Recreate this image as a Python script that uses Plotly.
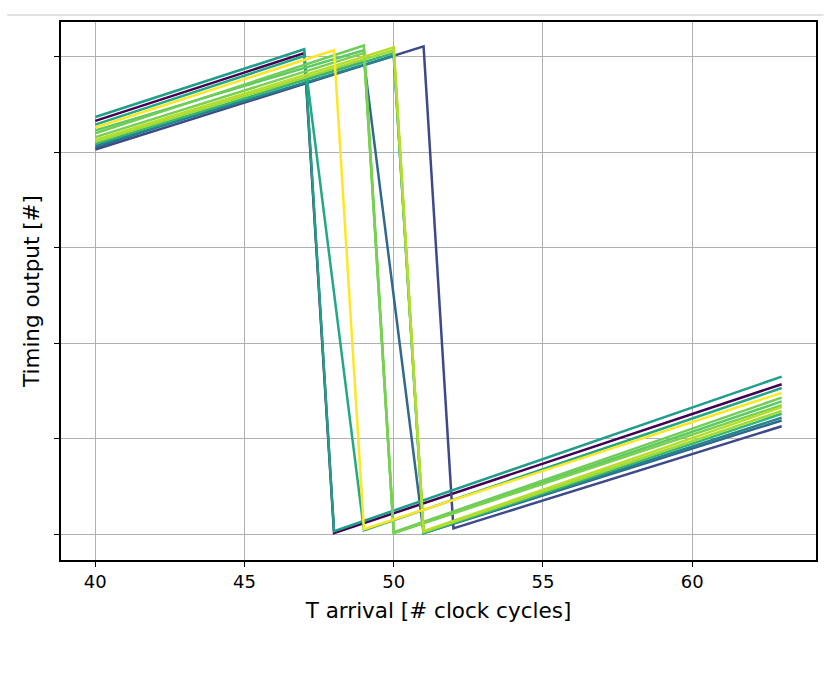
import plotly.graph_objects as go

# Each trace: ramp from T=40 up to its wrap point, a fall to the low value,
# then a ramp up to T=63. Values given at the corner points of each trace.
colors = ["#440154", "#3e4989", "#31688e", "#26828e", "#1f9e89", "#22a884",
          "#35b779", "#5ec962", "#6ece58", "#7ad151", "#a0da39", "#b5de2b",
          "#fde725"]
t_start = [40] * 13
t_peak = [47, 51, 49, 50, 47, 47, 50, 49, 49, 49, 50, 50, 48]
t_low = [48, 52, 51, 51, 48, 49, 51, 50, 50, 50, 51, 51, 49]
t_end = [63] * 13
y_start = [43.3, 40.3, 40.5, 40.7, 43.7, 42.9, 40.9, 42.3, 42.0, 41.6, 41.1, 41.3, 42.6]
y_peak = [50.4, 51.1, 49.7, 50.1, 50.8, 50.1, 50.4, 50.7, 51.2, 50.4, 50.7, 51.0, 50.7]
y_low = [0.1, 0.6, 0.1, 0.1, 0.3, 0.4, 0.1, 0.1, 0.2, 0.1, 0.2, 0.3, 0.5]
y_end = [15.7, 11.3, 11.9, 12.2, 16.5, 15.3, 12.6, 13.9, 14.3, 13.5, 12.9, 13.3, 14.8]

x_ticks = [40, 45, 50, 55, 60]
y_ticks = [0, 10, 20, 30, 40, 50]

fig = go.Figure()
for i, c in enumerate(colors):
    fig.add_trace(go.Scatter(
        x=[t_start[i], t_peak[i], t_low[i], t_end[i]],
        y=[y_start[i], y_peak[i], y_low[i], y_end[i]],
        mode="lines", line=dict(color=c, width=2.5), showlegend=False,
        hoverinfo="skip"))

axis_common = dict(showline=True, linecolor="black", linewidth=1.5, mirror=True,
                   showgrid=True, gridcolor="#b0b0b0", gridwidth=1.3,
                   ticks="outside", ticklen=5, tickwidth=1.3, tickcolor="black",
                   zeroline=False)

fig.update_xaxes(range=[38.85, 64.15], tickvals=x_ticks,
                 ticktext=[str(v) for v in x_ticks],
                 tickfont=dict(size=18, color="black"),
                 title=dict(text="T arrival [# clock cycles]",
                            font=dict(size=21.5, color="black"), standoff=12),
                 **axis_common)
fig.update_yaxes(range=[-2.72, 53.66], tickvals=y_ticks, showticklabels=False,
                 title=dict(text="Timing output [#]",
                            font=dict(size=21.5, color="black"), standoff=9),
                 **axis_common)

fig.add_shape(type="line", xref="paper", yref="paper",
              x0=-0.0713, x1=1.01, y0=1.013, y1=1.013,
              line=dict(color="#c4c4c4", width=1))

fig.update_layout(width=824, height=675,
                  margin=dict(l=61, r=6, t=22, b=115),
                  paper_bgcolor="white", plot_bgcolor="white",
                  font=dict(family="DejaVu Sans", color="black"))

fig.write_html("out.html")
